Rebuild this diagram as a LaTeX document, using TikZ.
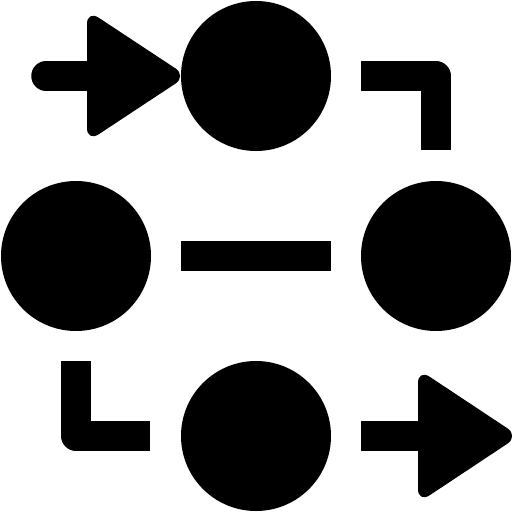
\documentclass[tikz,border=0pt]{standalone}
\usetikzlibrary{calc}
\begin{document}
\begin{tikzpicture}[
    x=1pt, y=-1pt,
    dot/.style={circle, fill=black, inner sep=0pt, minimum size=150pt},
    bar/.style={line width=29.5pt, line join=round},
    head/.style={fill=black, rounded corners=14pt}
]
\useasboundingbox (0,0) rectangle (512,512);

% Dots
\node[dot] (top) at (256,76) {};
\node[dot] (left) at (76,256) {};
\node[dot] (right) at (436,256) {};
\node[dot] (bottom) at (256,436) {};

% Middle link
\draw[bar] ($(left.east)+(30,0)$) -- ($(right.west)+(-30,0)$);

% Corner links
\draw[bar] ($(top.east)+(30,0)$) -| ($(right.north)+(0,-31)$);
\draw[bar] ($(left.south)+(0,30)$) |- ($(bottom.west)+(-31,0)$);

% Arrow in
\draw[bar, line cap=round] (46,76) -- (100,76);
\fill[head] (87,10) -- (187,76) -- (87,142) -- cycle;

% Arrow out
\draw[bar] ($(bottom.east)+(30,0)$) -- (430,436);
\fill[head] (418,369) -- (519,436) -- (418,503) -- cycle;
\end{tikzpicture}
\end{document}
